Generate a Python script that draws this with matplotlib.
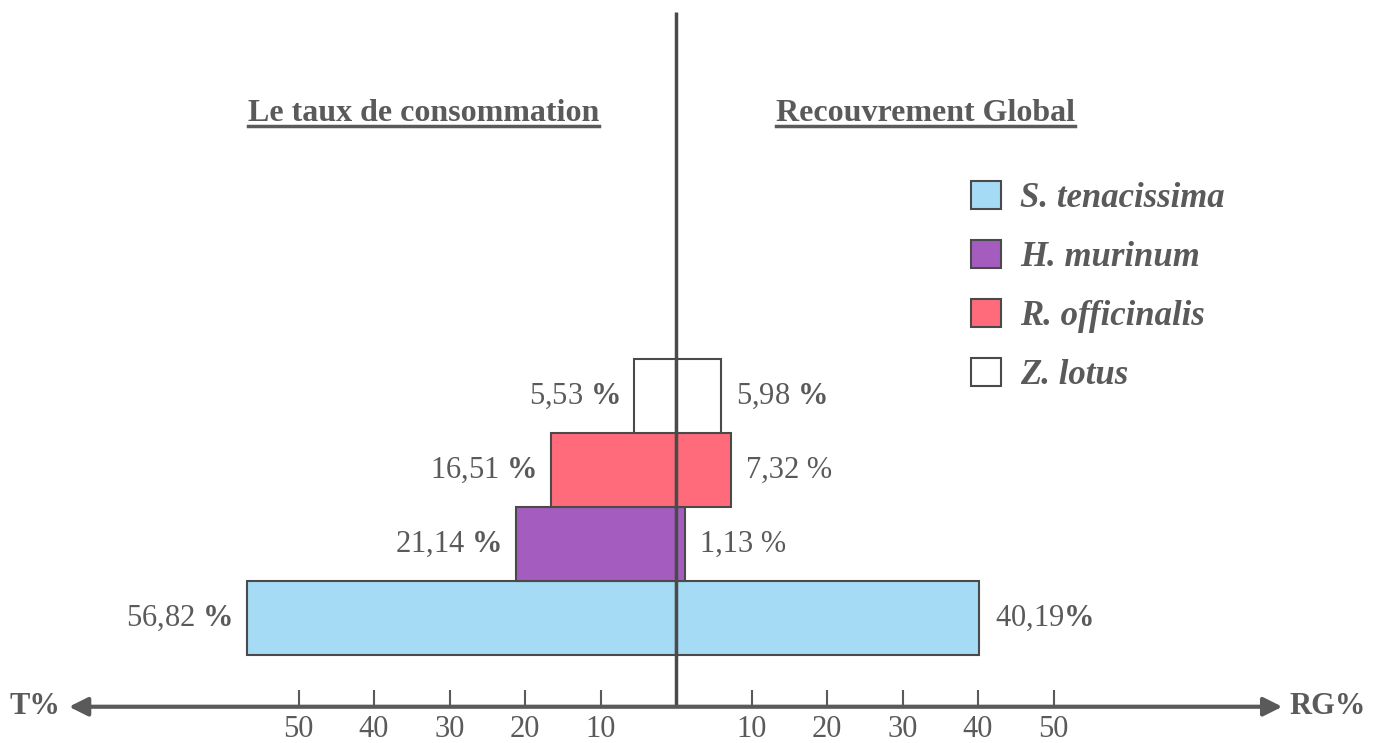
"""
Pyramide : taux de consommation (T%) vs recouvrement global (RG%).
"""
import matplotlib
matplotlib.use('Agg')
import matplotlib.pyplot as plt
from matplotlib.lines import Line2D
import numpy as np

plt.rcParams['font.family'] = 'Liberation Serif'
plt.rcParams['mathtext.fontset'] = 'custom'
plt.rcParams['mathtext.rm'] = 'Liberation Serif'
plt.rcParams['mathtext.bf'] = 'Liberation Serif:bold'

# data
species = ['S. tenacissima', 'H. murinum', 'R. officinalis', 'Z. lotus']
taux = [56.82, 21.14, 16.51, 5.53]           # left side (T%)
recouvrement = [40.19, 1.13, 7.32, 5.98]     # right side (RG%)
taux_labels = [r'56,82 $\mathbf{\%}$', r'21,14 $\mathbf{\%}$',
               r'16,51 $\mathbf{\%}$', r'5,53 $\mathbf{\%}$']
rg_labels = [r'40,19$\mathbf{\%}$', '1,13 %', '7,32 %', r'5,98 $\mathbf{\%}$']
colors = ['#a6dbf5', '#a45dbf', '#ff6b7b', '#ffffff']
ticks = [10, 20, 30, 40, 50]

grey = '#5a5a5a'
edge = '#4a4a4a'
fs = 22

fig = plt.figure(figsize=(13.86, 7.43), dpi=100)
ax = fig.add_axes([0, 0, 1, 1])
ax.set_xlim(-89.54, 94.04)
ax.set_ylim(-1.69, 8.35)
ax.axis('off')

y = np.arange(len(species))
bars_l = ax.barh(y, -np.array(taux), height=1, color=colors, edgecolor=edge, linewidth=1.5, zorder=2)
bars_r = ax.barh(y, recouvrement, height=1, color=colors, edgecolor=edge, linewidth=1.5, zorder=2)

# value labels
for i in range(len(species)):
    ax.text(-taux[i] - 2, y[i], taux_labels[i], ha='right', va='center',
            fontsize=fs, color=grey)
    ax.text(recouvrement[i] + 2, y[i], rg_labels[i], ha='left', va='center',
            fontsize=fs, color=grey)

# central vertical line
ax.vlines(0, -1.2, 8.19, color=edge, linewidth=2.5, zorder=3)

# horizontal axis with arrows
ax.annotate('', xy=(-80.4, -1.2), xytext=(80.3, -1.2),
            arrowprops=dict(arrowstyle='<|-|>', color=grey, lw=3, mutation_scale=28,
                            shrinkA=0, shrinkB=0))
for t in ticks:
    ax.vlines([-t, t], -0.97, -1.2, color=grey, linewidth=1.5)
    ax.text(-t, -1.31, str(t), ha='center', va='top', fontsize=fs, color=grey)
    ax.text(t, -1.31, str(t), ha='center', va='top', fontsize=fs, color=grey)

ax.text(-81.6, -1.2, 'T%', ha='right', va='center', fontsize=fs, fontweight='bold', color=grey)
ax.text(81.3, -1.2, 'RG%', ha='left', va='center', fontsize=fs, fontweight='bold', color=grey)

# titles (underlined)
t1 = ax.text(-33.4, 6.81, 'Le taux de consommation', ha='center', va='center',
             fontsize=23, fontweight='bold', color=grey)
t2 = ax.text(33.1, 6.81, 'Recouvrement Global', ha='center', va='center',
             fontsize=23, fontweight='bold', color=grey)

# legend
ax.legend(bars_r, species, loc='upper left', bbox_to_anchor=(971 / 1386, 1 - 181 / 743),
          frameon=False, prop=dict(family='Liberation Serif', style='italic', weight='bold', size=25),
          labelcolor=grey, handlelength=0.86, handleheight=0.86, handletextpad=0.55,
          labelspacing=0.72, borderpad=0, borderaxespad=0)

fig.canvas.draw()
r = fig.canvas.get_renderer()
for t in (t1, t2):
    bb = t.get_window_extent(r)
    yline = bb.y0 + 2
    fig.add_artist(Line2D([bb.x0, bb.x1], [yline, yline], transform=None,
                          color=grey, linewidth=2.5))

fig.savefig('out.png', dpi=100)
